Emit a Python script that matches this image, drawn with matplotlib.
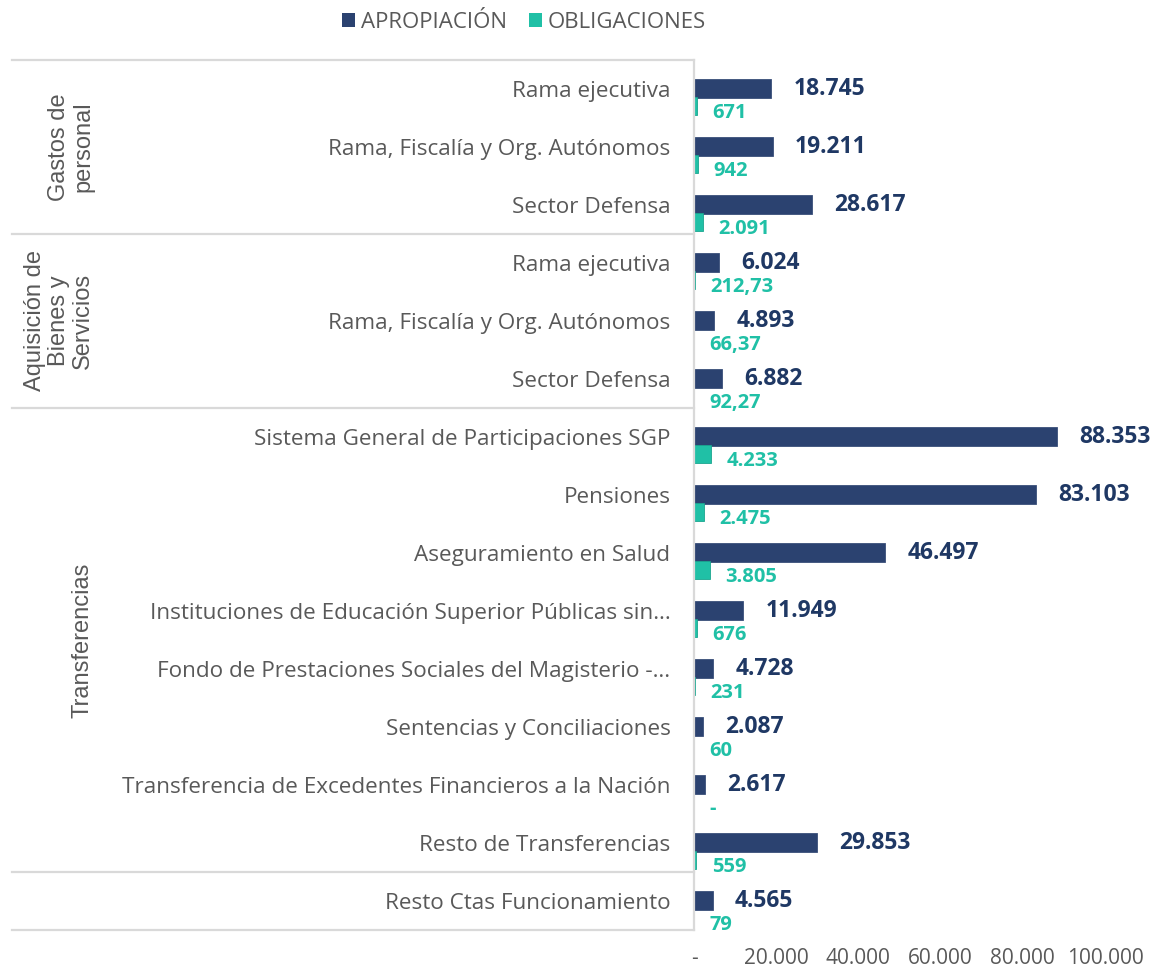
import numpy as np
import matplotlib.pyplot as plt
from matplotlib.ticker import FuncFormatter
from matplotlib.patches import Patch

categorias = ['Rama ejecutiva', 'Rama, Fiscalía y Org. Autónomos', 'Sector Defensa',
              'Rama ejecutiva', 'Rama, Fiscalía y Org. Autónomos', 'Sector Defensa',
              'Sistema General de Participaciones SGP', 'Pensiones',
              'Aseguramiento en Salud',
              'Instituciones de Educación Superior Públicas sin…',
              'Fondo de Prestaciones Sociales del Magisterio -…',
              'Sentencias y Conciliaciones',
              'Transferencia de Excedentes Financieros a la Nación',
              'Resto de Transferencias', 'Resto Ctas Funcionamiento']
apropiacion = [18745, 19211, 28617, 6024, 4893, 6882, 88353, 83103, 46497,
               11949, 4728, 2087, 2617, 29853, 4565]
obligaciones = [671, 942, 2091, 212.73, 66.37, 92.27, 4233, 2475, 3805,
                676, 231, 60, 0, 559, 79]
etiq_aprop = ['18.745', '19.211', '28.617', '6.024', '4.893', '6.882', '88.353',
              '83.103', '46.497', '11.949', '4.728', '2.087', '2.617', '29.853', '4.565']
etiq_oblig = ['671', '942', '2.091', '212,73', '66,37', '92,27', '4.233', '2.475',
              '3.805', '676', '231', '60', '-', '559', '79']
grupos = ['Gastos de\npersonal', 'Aquisición de\nBienes y\nServicios', 'Transferencias', '']
grupo_filas = [(0, 2), (3, 5), (6, 13), (14, 14)]

azul = '#2B4270'
verde = '#20C0A6'
gris = '#595959'
fuente = 'Open Sans'

fig = plt.figure(figsize=(11.7, 9.69), dpi=100)
ax = fig.add_axes([694/1170, 1-930/969, 411/1170, 870/969])

y = np.arange(len(categorias))
ax.barh(y - 0.012, apropiacion, height=0.32, color=azul, edgecolor='#3A4F7A', linewidth=0.6)
ax.barh(y + 0.30, obligaciones, height=0.31, color=verde, edgecolor='#1AA58F', linewidth=0.6)

for i in range(len(categorias)):
    ax.annotate(etiq_aprop[i], (apropiacion[i], y[i]), xytext=(16, 0),
                textcoords='offset points', va='center', ha='left',
                fontsize=16.5, fontweight='bold', color='#1F3864', family=fuente)
    ax.annotate(etiq_oblig[i], (obligaciones[i], y[i] + 0.41), xytext=(11, 0),
                textcoords='offset points', va='center', ha='left',
                fontsize=14.5, fontweight='bold', color=verde, family=fuente)

ax.set_ylim(14.5, -0.5)
ax.set_xlim(0, 100000)
ax.set_yticks(y)
ax.set_yticklabels(categorias, fontsize=16.2, color=gris, family=fuente)
ax.set_xticks(np.arange(0, 100001, 20000))
ax.xaxis.set_major_formatter(FuncFormatter(lambda v, p: '-' if v == 0 else f'{int(v):,}'.replace(',', '.')))
ax.tick_params(axis='y', length=0, pad=17)
ax.tick_params(axis='x', length=0, pad=13, labelsize=15, labelcolor=gris)
for lbl in ax.get_xticklabels():
    lbl.set_family(fuente)

for s in ['top', 'right', 'bottom']:
    ax.spines[s].set_visible(False)
ax.spines['left'].set_color('#D9D9D9')
ax.spines['left'].set_linewidth(1.6)

# separadores de grupos
trans = ax.get_yaxis_transform()
x0 = (12 - 694) / 411
for b in [-0.5, 2.5, 5.5, 13.5, 14.5]:
    ax.plot([x0, 0], [b, b], transform=trans, color='#D9D9D9', linewidth=1.6, clip_on=False)

xg = (94 - 694) / 411
for nombre, (a, b) in zip(grupos, grupo_filas):
    if nombre:
        ax.text(xg, (a + b) / 2, nombre, transform=trans, rotation=90, ha='right', va='center',
                multialignment='center', fontsize=17, color=gris, family='Liberation Sans',
                linespacing=1.12)

handles = [Patch(facecolor=azul, label='APROPIACIÓN'), Patch(facecolor=verde, label='OBLIGACIONES')]
fig.legend(handles=handles, loc='center', bbox_to_anchor=(524/1170, 1-22/969), ncol=2,
           frameon=False, handlelength=0.6, handleheight=0.6, handletextpad=0.25,
           columnspacing=1.0, prop={'family': fuente, 'size': 16}, labelcolor=gris)

fig.savefig('out.png', dpi=100)
